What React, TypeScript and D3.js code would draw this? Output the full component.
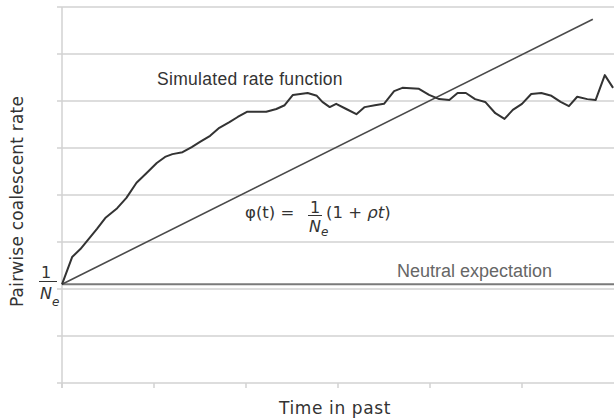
import React from "react";
import * as d3 from "d3";

const timeTicks = [0, 1, 2, 3, 4, 5];
const rateGrid = [0, 1, 2, 3, 4, 5, 6, 7, 8];
const simT = [0, 0.11, 0.2, 0.28, 0.38, 0.47, 0.6, 0.7, 0.81, 0.92, 1.03, 1.12, 1.2, 1.31, 1.41, 1.5, 1.61, 1.71, 1.82, 1.91, 2.01, 2.12, 2.22, 2.33, 2.42, 2.51, 2.67, 2.77, 2.83, 2.91, 2.98, 3.09, 3.2, 3.29, 3.4, 3.5, 3.61, 3.7, 3.88, 3.99, 4.1, 4.21, 4.3, 4.39, 4.49, 4.6, 4.71, 4.81, 4.9, 5.0, 5.1, 5.21, 5.32, 5.42, 5.51, 5.6, 5.71, 5.8, 5.9, 5.99];
const simRate = [2.1, 2.68, 2.85, 3.04, 3.28, 3.51, 3.72, 3.94, 4.26, 4.47, 4.68, 4.81, 4.87, 4.91, 5.02, 5.13, 5.26, 5.43, 5.55, 5.66, 5.77, 5.77, 5.77, 5.83, 5.91, 6.13, 6.17, 6.11, 5.98, 5.87, 5.94, 5.83, 5.72, 5.87, 5.91, 5.94, 6.21, 6.28, 6.26, 6.13, 6.04, 6.02, 6.17, 6.17, 6.04, 5.98, 5.74, 5.62, 5.81, 5.94, 6.15, 6.17, 6.11, 5.98, 5.89, 6.09, 6.04, 6.02, 6.55, 6.28];
const neutralRate = 2.1;
const phiT = [0, 5.77];
const phiRate = [2.1, 7.74];

const W = 614;
const H = 420;
const left = 62;
const right = 614;
const top = 7;
const bottom = 383;

export default function App() {
  const x = d3.scaleLinear().domain([0, 6]).range([left, right]);
  const y = d3.scaleLinear().domain([0, 8]).range([bottom, top]);
  const line = d3
    .line<number>()
    .x((_, i) => x(simT[i]))
    .y((d) => y(d));
  const phiLine = d3
    .line<number>()
    .x((_, i) => x(phiT[i]))
    .y((d) => y(d));
  const grid = "#d2d2d2";
  const sans = "'DejaVu Sans', Verdana, sans-serif";
  const arial = "'Liberation Sans', Arial, sans-serif";
  return (
    <svg
      width={W}
      height={H}
      style={{ position: "absolute", left: 0, top: 0, background: "#fff" }}
    >
      {rateGrid.map((r) => (
        <line key={"g" + r} x1={left - 5} x2={right} y1={y(r)} y2={y(r)} stroke={grid} strokeWidth={1.5} />
      ))}
      <line x1={left} x2={left} y1={top} y2={bottom + 5} stroke={grid} strokeWidth={1.5} />
      {timeTicks.map((t) => (
        <line key={"t" + t} x1={x(t)} x2={x(t)} y1={bottom} y2={bottom + 5} stroke={grid} strokeWidth={1.5} />
      ))}
      <line x1={x(0)} x2={right} y1={y(neutralRate)} y2={y(neutralRate)} stroke="#7a7a7a" strokeWidth={2} />
      <path d={phiLine(phiRate) || ""} fill="none" stroke="#4a4a4a" strokeWidth={1.6} />
      <path d={line(simRate) || ""} fill="none" stroke="#333" strokeWidth={2} strokeLinejoin="round" />

      <text x={157} y={85} fontFamily={arial} fontSize={17.5} letterSpacing={0.3} fill="#333">
        Simulated rate function
      </text>
      <text x={397} y={277} fontFamily={arial} fontSize={18} fill="#666">
        Neutral expectation
      </text>

      <g fontFamily={sans} fill="#333">
        <text x={245} y={218} fontSize={16.5}>φ(t) =</text>
        <text x={315} y={213} fontSize={16} textAnchor="middle">1</text>
        <line x1={308} x2={322} y1={215.5} y2={215.5} stroke="#333" strokeWidth={1} />
        <text x={315} y={232} fontSize={16} textAnchor="middle" fontStyle="italic">N</text>
        <text x={321} y={236} fontSize={12} fontStyle="italic">e</text>
        <text x={326} y={218} fontSize={16.5}>
          (1 + <tspan fontStyle="italic">ρt</tspan>)
        </text>

        <text x={46} y={278} fontSize={16} textAnchor="middle">1</text>
        <line x1={39} x2={57} y1={281.5} y2={281.5} stroke="#333" strokeWidth={1} />
        <text x={46} y={299} fontSize={16} textAnchor="middle" fontStyle="italic">N</text>
        <text x={52} y={306} fontSize={12} fontStyle="italic">e</text>
      </g>

      <text
        transform={`translate(23,${(90 + 313) / 2}) rotate(-90)`}
        textAnchor="middle"
        fontFamily={sans}
        fontSize={17}
        letterSpacing={0.2}
        fill="#333"
      >
        Pairwise coalescent rate
      </text>
      <text x={335} y={414} textAnchor="middle" fontFamily={sans} fontSize={17} letterSpacing={0.6} fill="#333">
        Time in past
      </text>
    </svg>
  );
}
